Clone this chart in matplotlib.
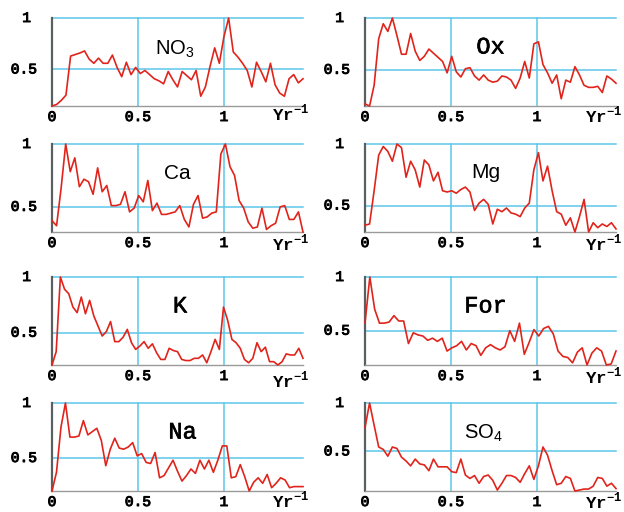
import numpy as np
import matplotlib
matplotlib.use("Agg")
import matplotlib.pyplot as plt
import matplotlib.patheffects as pe

plt.rcParams['mathtext.fontset'] = 'custom'
plt.rcParams['mathtext.rm'] = 'Liberation Mono'
plt.rcParams['mathtext.bf'] = 'Liberation Mono:bold'
plt.rcParams['mathtext.sf'] = 'Liberation Sans'

X_MAX = 1.46

no3 = [0.145, 0.16, 0.20, 0.25, 0.63, 0.645, 0.66, 0.68, 0.60, 0.56, 0.61, 0.56, 0.56, 0.64,
       0.52, 0.43, 0.57, 0.45, 0.52, 0.46, 0.49, 0.45, 0.41, 0.39, 0.36, 0.48, 0.40, 0.33,
       0.48, 0.44, 0.40, 0.49, 0.24, 0.33, 0.53, 0.71, 0.56, 0.82, 1.0, 0.67, 0.62, 0.56,
       0.49, 0.33, 0.57, 0.48, 0.38, 0.56, 0.35, 0.27, 0.24, 0.41, 0.45, 0.37, 0.41]
ox = [0.17, 0.15, 0.35, 0.80, 0.945, 0.87, 1.0, 0.83, 0.65, 0.65, 0.85, 0.68, 0.59, 0.63,
      0.70, 0.66, 0.62, 0.58, 0.47, 0.63, 0.48, 0.43, 0.51, 0.52, 0.44, 0.40, 0.45, 0.40,
      0.38, 0.39, 0.44, 0.43, 0.40, 0.32, 0.42, 0.58, 0.42, 0.75, 0.77, 0.55, 0.47, 0.37,
      0.45, 0.22, 0.40, 0.38, 0.53, 0.45, 0.35, 0.33, 0.33, 0.34, 0.28, 0.44, 0.41, 0.37]
ca = [0.39, 0.35, 0.65, 1.0, 0.78, 0.89, 0.66, 0.72, 0.70, 0.60, 0.81, 0.62, 0.67, 0.51,
      0.51, 0.52, 0.62, 0.46, 0.49, 0.59, 0.54, 0.71, 0.47, 0.53, 0.44, 0.44, 0.45, 0.46,
      0.51, 0.40, 0.34, 0.52, 0.59, 0.41, 0.42, 0.45, 0.46, 0.92, 1.0, 0.82, 0.75, 0.55,
      0.49, 0.38, 0.33, 0.34, 0.49, 0.32, 0.35, 0.37, 0.50, 0.51, 0.40, 0.40, 0.46, 0.30]
mg = [0.34, 0.35, 0.62, 0.91, 0.98, 0.94, 0.86, 1.0, 0.97, 0.73, 0.86, 0.79, 0.65, 0.87,
      0.83, 0.70, 0.77, 0.62, 0.61, 0.62, 0.60, 0.63, 0.65, 0.61, 0.46, 0.52, 0.55, 0.51,
      0.35, 0.47, 0.45, 0.48, 0.44, 0.43, 0.41, 0.48, 0.52, 0.79, 0.93, 0.70, 0.82, 0.62,
      0.45, 0.43, 0.34, 0.40, 0.285, 0.41, 0.55, 0.285, 0.36, 0.32, 0.35, 0.33, 0.36, 0.31]
k = [0.21, 0.33, 1.0, 0.89, 0.85, 0.73, 0.68, 0.82, 0.67, 0.79, 0.65, 0.56, 0.47, 0.51,
     0.60, 0.42, 0.42, 0.46, 0.53, 0.41, 0.35, 0.38, 0.42, 0.36, 0.40, 0.32, 0.26, 0.26,
     0.36, 0.34, 0.33, 0.26, 0.25, 0.25, 0.27, 0.27, 0.30, 0.23, 0.33, 0.44, 0.35, 0.73,
     0.61, 0.44, 0.41, 0.36, 0.26, 0.23, 0.27, 0.41, 0.33, 0.37, 0.24, 0.24, 0.21, 0.24,
     0.31, 0.30, 0.30, 0.36, 0.27]
forr = [0.57, 1.0, 0.70, 0.57, 0.57, 0.58, 0.64, 0.59, 0.59, 0.38, 0.48, 0.46, 0.45, 0.41,
        0.43, 0.40, 0.43, 0.31, 0.34, 0.36, 0.40, 0.32, 0.38, 0.36, 0.27, 0.34, 0.37, 0.34,
        0.32, 0.35, 0.50, 0.40, 0.57, 0.28, 0.39, 0.51, 0.45, 0.52, 0.54, 0.47, 0.31, 0.26,
        0.25, 0.20, 0.30, 0.34, 0.18, 0.29, 0.34, 0.31, 0.18, 0.19, 0.31]
na = [0.20, 0.37, 0.78, 1.0, 0.69, 0.69, 0.70, 0.84, 0.71, 0.74, 0.77, 0.66, 0.43, 0.58,
      0.68, 0.59, 0.58, 0.60, 0.64, 0.52, 0.54, 0.46, 0.45, 0.55, 0.32, 0.34, 0.41, 0.48,
      0.38, 0.29, 0.34, 0.40, 0.36, 0.48, 0.40, 0.48, 0.37, 0.48, 0.61, 0.61, 0.32, 0.33,
      0.44, 0.33, 0.20, 0.28, 0.32, 0.27, 0.35, 0.23, 0.27, 0.32, 0.30, 0.23, 0.24, 0.24, 0.24]
so4 = [0.745, 1.0, 0.77, 0.545, 0.52, 0.45, 0.545, 0.53, 0.44, 0.40, 0.35, 0.42, 0.37, 0.36,
       0.30, 0.42, 0.34, 0.34, 0.34, 0.29, 0.28, 0.42, 0.255, 0.22, 0.25, 0.17, 0.24, 0.255,
       0.20, 0.10, 0.17, 0.25, 0.25, 0.23, 0.18, 0.27, 0.35, 0.21, 0.35, 0.545, 0.46, 0.30,
       0.155, 0.17, 0.24, 0.22, 0.09, 0.10, 0.11, 0.11, 0.14, 0.23, 0.22, 0.14, 0.17, 0.115]

series = [no3, ox, ca, mg, k, forr, na, so4]
labels = [r"$\mathsf{NO}_{\mathsf{3}}$", "Ox", "Ca", "Mg", "K", "For", "Na", r"$\mathsf{SO}_{\mathsf{4}}$"]
x_ticks = [0, 0.5, 1]
x_tick_labels = ["0", "0.5", "1"]
y_ticks = [0.5, 1]
y_tick_labels = ["0.5", "1"]
unit_label = r"$\mathbf{Yr}^{\mathbf{-1}}$"

# styling / layout
W, H = 624, 512
col_left = [52, 365]
row_top = [18, 144, 277, 403]
ax_w, ax_h = 251, 88
label_family = ['Liberation Sans', 'Liberation Mono', 'Liberation Sans', 'Liberation Sans',
                'Liberation Mono', 'Liberation Mono', 'Liberation Mono', 'Liberation Sans']
label_stroke = [0, 0.45, 0, 0, 0.45, 0.45, 0.45, 0]
label_size = [14.5, 17, 15, 15, 17, 17, 17, 14.5]
label_pos = [(0.49, 0.64), (0.50, 0.67), (0.50, 0.67), (0.48, 0.68),
             (0.51, 0.67), (0.48, 0.67), (0.52, 0.67), (0.47, 0.66)]
unit_off = [8, 10, 12, 12, 16, 12, 10, 11]
y_lab_off = {"0.5": 15, "1": 21}

RED = '#e0241c'
CYAN = '#5cc6ea'
AXIS = '#5a5f62'
AXIS_B = '#9a9a9a'
mono = 'Liberation Mono'
tick_fx = [pe.withStroke(linewidth=0.7, foreground='black')]

fig = plt.figure(figsize=(W / 100, H / 100), dpi=100)
for i, y in enumerate(series):
    r, c = divmod(i, 2)
    ax = fig.add_axes([col_left[c] / W, 1 - (row_top[r] + ax_h) / H, ax_w / W, ax_h / H])
    x = np.linspace(0, X_MAX, len(y))
    ymin = min(y)
    ax.set_xlim(0, X_MAX)
    ax.set_ylim(ymin, 1)
    for gx in x_ticks[1:]:
        ax.axvline(gx, color=CYAN, lw=1.1, zorder=1, clip_on=False)
    for gy in y_ticks:
        ax.axhline(gy, color=CYAN, lw=1.1, zorder=1, clip_on=False)
    ax.plot(x, y, color=RED, lw=1.2, zorder=3, clip_on=False)
    for s in ['top', 'right']:
        ax.spines[s].set_visible(False)
    ax.spines['left'].set_color(AXIS)
    ax.spines['left'].set_linewidth(1.6)
    ax.spines['bottom'].set_color(AXIS_B)
    ax.spines['bottom'].set_linewidth(1.0)
    ax.set_xticks([])
    ax.set_yticks([])
    ax.patch.set_alpha(0)
    for tv, tl in zip(x_ticks, x_tick_labels):
        ax.annotate(tl, xy=(tv, 0), xycoords=('data', 'axes fraction'),
                    xytext=(0, -11), textcoords='offset pixels',
                    ha='center', va='center', fontsize=10.5, family=mono,
                    path_effects=tick_fx)
    for tv, tl in zip(y_ticks, y_tick_labels):
        ax.annotate(tl, xy=(0, tv), xycoords=('axes fraction', 'data'),
                    xytext=(-y_lab_off[tl], 0), textcoords='offset pixels',
                    ha='right', va='center', fontsize=10.5, family=mono,
                    path_effects=tick_fx)
    ax.annotate(unit_label, xy=(1.0, 0), xycoords='axes fraction',
                xytext=(6, -unit_off[i]), textcoords='offset pixels',
                ha='right', va='center', fontsize=12.5)
    fx = [pe.withStroke(linewidth=label_stroke[i], foreground='black')] if label_stroke[i] else []
    ax.text(label_pos[i][0], label_pos[i][1], labels[i], transform=ax.transAxes,
            ha='center', va='center', fontsize=label_size[i], family=label_family[i],
            path_effects=fx)

fig.savefig('out.png', dpi=100)
